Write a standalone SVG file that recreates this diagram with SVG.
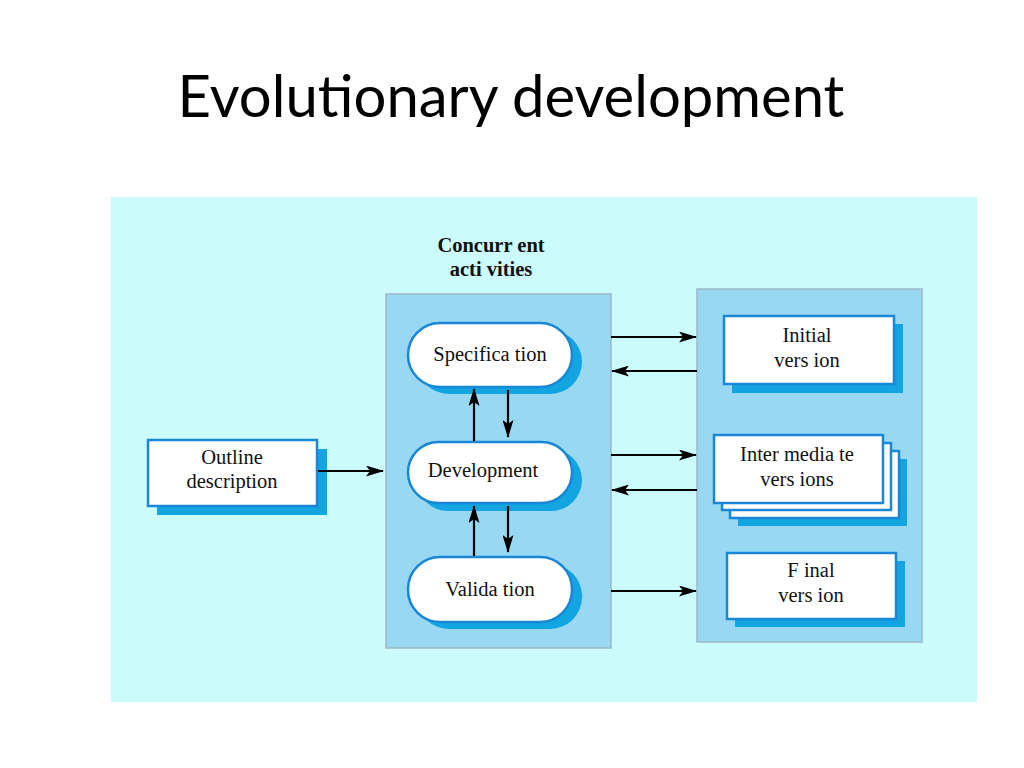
<svg xmlns="http://www.w3.org/2000/svg" width="1024" height="768" viewBox="0 0 1024 768">
<defs>
<style>
.panel{fill:#98d8f3;stroke:#9ab8c6;stroke-width:1.5}
.shadow{fill:#12a5e2}
.node{fill:#ffffff;stroke:#1a86d6;stroke-width:2.5}
.lbl{font-family:"Liberation Serif",serif;font-size:20.5px;fill:#111;text-anchor:middle}
.conn{stroke:#000;stroke-width:2.2;fill:none;marker-end:url(#ah)}
</style>
<marker id="ah" viewBox="0 0 18 11" refX="17" refY="5.5" markerWidth="18" markerHeight="11" markerUnits="userSpaceOnUse" orient="auto">
<path d="M0,0 L18,5.5 L0,11 L4,5.5 Z" fill="#000"/>
</marker>
</defs>
<rect width="1024" height="768" fill="#ffffff"/>
<text x="511" y="117" font-family="Lato, 'Open Sans', sans-serif" font-size="58" fill="#000" text-anchor="middle">Evolutionary development</text>
<rect x="111" y="197" width="866" height="505" fill="#ccfbfc"/>
<g id="concurrent-label">
<text class="lbl" x="491" y="252" font-weight="bold" font-size="19">Concurr ent</text>
<text class="lbl" x="491" y="276" font-weight="bold" font-size="19">acti vities</text>
</g>
<g id="concurrent-activities"><rect class="panel" x="386" y="294" width="225" height="354"/></g>
<g id="versions-panel"><rect class="panel" x="697" y="289" width="225" height="353"/></g>
<g id="outline">
<rect class="shadow" x="157" y="449" width="170" height="66"/>
<rect class="node" x="148" y="440" width="169" height="66"/>
<text class="lbl" x="232" y="464">Outline</text>
<text class="lbl" x="232" y="488">description</text>
</g>
<g id="specification">
<rect class="shadow" x="417" y="330" width="165" height="64" rx="32"/>
<rect class="node" x="408" y="323" width="164" height="64" rx="32"/>
<text class="lbl" x="490" y="361">Specifica tion</text>
</g>
<g id="development">
<rect class="shadow" x="417" y="449" width="165" height="62" rx="31"/>
<rect class="node" x="408" y="442" width="164" height="61" rx="30.5"/>
<text class="lbl" x="483" y="477">Development</text>
</g>
<g id="validation">
<rect class="shadow" x="417" y="564" width="165" height="65" rx="32"/>
<rect class="node" x="408" y="557" width="164" height="65" rx="32"/>
<text class="lbl" x="490" y="596">Valida tion</text>
</g>
<g id="initial">
<rect class="shadow" x="732" y="324" width="171" height="69"/>
<rect class="node" x="724" y="316" width="170" height="68"/>
<text class="lbl" x="807" y="342">Initial</text>
<text class="lbl" x="807" y="367">vers ion</text>
</g>
<g id="intermediate">
<rect class="shadow" x="738" y="459" width="169" height="67"/>
<rect class="node" x="730" y="451" width="169" height="67"/>
<rect class="node" x="722" y="443" width="169" height="67"/>
<rect class="node" x="714" y="435" width="169" height="68"/>
<text class="lbl" x="797" y="461">Inter media te</text>
<text class="lbl" x="797" y="486">vers ions</text>
</g>
<g id="final">
<rect class="shadow" x="735" y="561" width="170" height="66"/>
<rect class="node" x="727" y="553" width="169" height="66"/>
<text class="lbl" x="811" y="577">F inal</text>
<text class="lbl" x="811" y="602">vers ion</text>
</g>
<g id="connectors">
<line class="conn" x1="318" y1="471" x2="383" y2="471"/>
<line class="conn" x1="474" y1="441" x2="474" y2="389"/>
<line class="conn" x1="508" y1="390" x2="508" y2="437"/>
<line class="conn" x1="474" y1="556" x2="474" y2="506"/>
<line class="conn" x1="508" y1="506" x2="508" y2="552"/>
<line class="conn" x1="611" y1="337" x2="696" y2="337"/>
<line class="conn" x1="697" y1="371" x2="612" y2="371"/>
<line class="conn" x1="611" y1="455" x2="696" y2="455"/>
<line class="conn" x1="697" y1="490" x2="612" y2="490"/>
<line class="conn" x1="611" y1="591" x2="696" y2="591"/>
</g>
</svg>
